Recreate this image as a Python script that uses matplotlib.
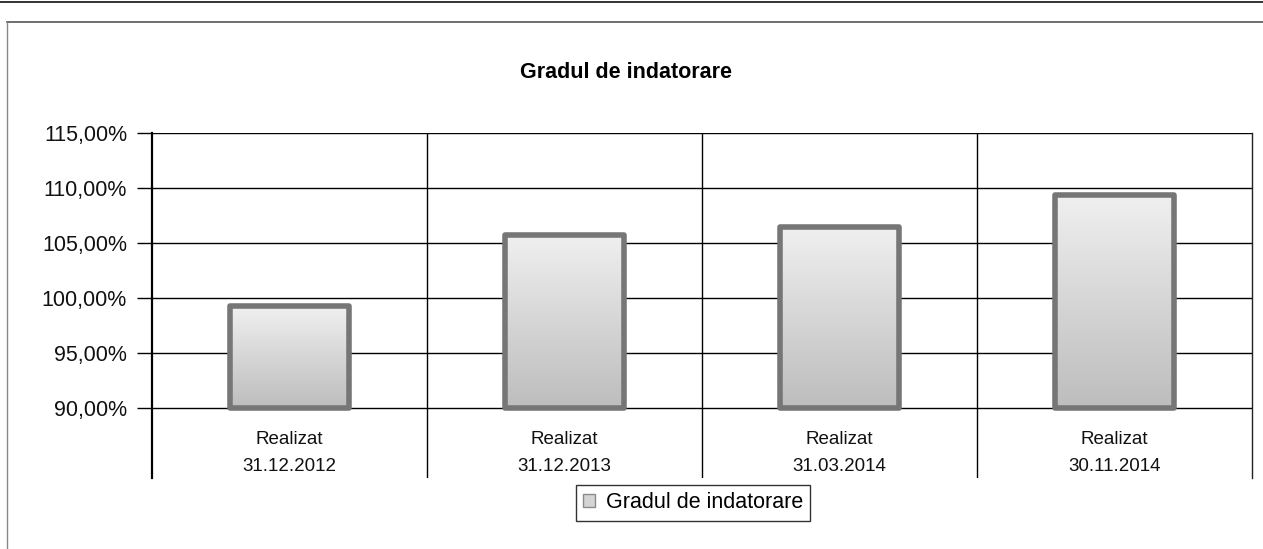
import numpy as np
import matplotlib
matplotlib.use("Agg")
import matplotlib.pyplot as plt
from matplotlib.lines import Line2D
from matplotlib.patches import Patch
from matplotlib.ticker import FuncFormatter

plt.rcParams['font.family'] = ['Liberation Sans', 'DejaVu Sans']

# Data
categories = ["Realizat\n31.12.2012", "Realizat\n31.12.2013",
              "Realizat\n31.03.2014", "Realizat\n30.11.2014"]
values = [99.25, 105.75, 106.5, 109.4]          # percent
yticks = [90, 95, 100, 105, 110, 115]
title = "Gradul de indatorare"
series_name = "Gradul de indatorare"

W, H = 1263, 549
fig = plt.figure(figsize=(W / 100, H / 100), dpi=100)
fig.patch.set_facecolor("white")

# Page rule and chart frame
fig.add_artist(Line2D([0, 1], [1 - 2 / H, 1 - 2 / H], color="#333333", lw=1.4))
fig.add_artist(Line2D([7 / W, 1], [1 - 22 / H, 1 - 22 / H], color="#555555", lw=1.2))
fig.add_artist(Line2D([7 / W, 7 / W], [0, 1 - 22 / H], color="#888888", lw=1.0))

# Plot area: the value axis runs 90-115%, with a band below for category labels
left, right, top, bottom = 152, 1252, 133, 478
ax = fig.add_axes([left / W, 1 - bottom / H, (right - left) / W, (bottom - top) / H])
base = yticks[0]
px_per_unit = (408 - 133) / (yticks[-1] - yticks[0])
ymin = base - (bottom - 408) / px_per_unit
ax.set_ylim(ymin, yticks[-1])
ax.set_xlim(-0.5, len(categories) - 0.5)

for s in ["top", "bottom"]:
    ax.spines[s].set_visible(False)
ax.spines["left"].set_linewidth(1.6)
ax.spines["right"].set_linewidth(1.0)
ax.spines["left"].set_color("black")
ax.spines["right"].set_color("#222222")

ax.set_yticks(yticks)
ax.yaxis.set_major_formatter(FuncFormatter(lambda v, p: f"{v:.2f}".replace(".", ",") + "%"))
ax.tick_params(axis="y", direction="out", length=11, width=1.0, labelsize=15.5,
               pad=7, colors="black", labelcolor="#111111")
ax.set_xticks([])

for t in yticks:
    ax.axhline(t, color="black", lw=1.0, zorder=1)
for k in range(1, len(categories)):
    ax.axvline(k - 0.5, color="black", lw=1.0, zorder=1)

# Bars with a vertical grey gradient and heavy rounded outline
x = np.arange(len(categories))
bar_w = 0.43
bars = ax.bar(x, np.array(values) - base, bottom=base, width=bar_w,
              facecolor="none", edgecolor="#767676", linewidth=4.0,
              joinstyle="round", zorder=3)
grad = np.linspace(0, 1, 256).reshape(-1, 1)
cmap = matplotlib.colors.LinearSegmentedColormap.from_list(
    "bargrey", ["#bdbdbd", "#d6d6d6", "#f0f0f0"])
for b, xi, v in zip(bars, x, values):
    im = ax.imshow(grad, extent=[xi - bar_w / 2, xi + bar_w / 2, base, v],
                   origin="lower", cmap=cmap, aspect="auto", zorder=2)
    im.set_clip_path(b)

# Category labels inside the band under the value axis
for xi, lab in zip(x, categories):
    ax.text(xi, base - 4.1, lab, ha="center", va="center", fontsize=13.5,
            linespacing=1.8, color="#111111")

fig.text(626 / W, 1 - 73 / H, title, ha="center", va="center",
         fontsize=15.5, fontweight="bold")

handle = Patch(facecolor="#d4d4d4", edgecolor="#8a8a8a", lw=1.0)
leg = fig.legend([handle], [series_name], loc="center",
                 bbox_to_anchor=(693 / W, 1 - 503 / H), fontsize=15.5,
                 frameon=True, fancybox=False, edgecolor="black",
                 handlelength=0.55, handleheight=0.55, handletextpad=0.5,
                 borderpad=0.35, borderaxespad=0)
leg.get_frame().set_linewidth(1.0)

fig.savefig("out.png", dpi=100, facecolor="white")
